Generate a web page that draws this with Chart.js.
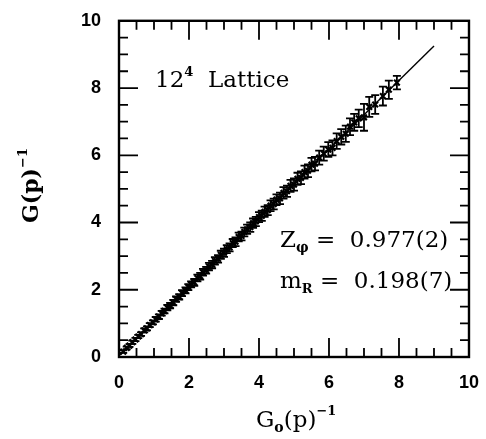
<!DOCTYPE html>
<html>
<head>
<meta charset="utf-8">
<script src="https://cdn.jsdelivr.net/npm/chart.js@4.4.1/dist/chart.umd.min.js"></script>
<style>
  html, body { margin: 0; padding: 0; background: #fff; }
  #wrap { width: 486px; height: 439px; }
</style>
</head>
<body>
<div id="wrap"><canvas id="c" width="486" height="439"></canvas></div>
<script>
// measured points: G0(p)^-1, G(p)^-1 and error
const xVals = [0.12, 0.22, 0.30, 0.38, 0.47, 0.55, 0.63, 0.72, 0.80, 0.88,
               0.97, 1.05, 1.14, 1.22, 1.30, 1.38, 1.46, 1.55, 1.63, 1.72,
               1.80, 1.90, 1.98, 2.06, 2.15, 2.24, 2.32, 2.40, 2.49, 2.57,
               2.66, 2.74, 2.83, 2.91, 3.00, 3.08, 3.16, 3.25, 3.33, 3.42,
               3.50, 3.58, 3.66, 3.75, 3.83, 3.91, 4.00, 4.08, 4.16, 4.25,
               4.33, 4.42, 4.50, 4.60, 4.70, 4.80, 4.90, 5.00, 5.10, 5.20,
               5.30, 5.40, 5.50, 5.60, 5.72, 5.85, 5.98, 6.10, 6.22, 6.35,
               6.48, 6.60, 6.72, 6.85, 7.00, 7.15, 7.32, 7.54, 7.71, 7.94];
const yVals = [0.16, 0.27, 0.34, 0.44, 0.52, 0.61, 0.68, 0.79, 0.85, 0.95,
               1.03, 1.12, 1.20, 1.30, 1.37, 1.47, 1.53, 1.62, 1.72, 1.79,
               1.90, 1.98, 2.08, 2.16, 2.22, 2.35, 2.40, 2.52, 2.58, 2.69,
               2.75, 2.86, 2.92, 3.04, 3.10, 3.21, 3.26, 3.39, 3.43, 3.57,
               3.60, 3.72, 3.80, 3.86, 3.98, 4.03, 4.16, 4.20, 4.32, 4.37,
               4.50, 4.55, 4.68, 4.72, 4.88, 4.93, 5.09, 5.13, 5.30, 5.33,
               5.50, 5.54, 5.72, 5.75, 5.93, 6.05, 6.17, 6.22, 6.42, 6.55,
               6.64, 6.85, 6.98, 7.10, 7.13, 7.44, 7.51, 7.76, 7.95, 8.16];
const yErrs = [0.04, 0.04, 0.04, 0.05, 0.05, 0.05, 0.05, 0.06, 0.06, 0.06,
               0.06, 0.07, 0.07, 0.07, 0.07, 0.08, 0.08, 0.08, 0.08, 0.08,
               0.09, 0.09, 0.09, 0.09, 0.10, 0.10, 0.10, 0.10, 0.10, 0.11,
               0.11, 0.11, 0.11, 0.12, 0.12, 0.12, 0.12, 0.12, 0.13, 0.13,
               0.13, 0.13, 0.14, 0.14, 0.14, 0.14, 0.15, 0.15, 0.15, 0.15,
               0.16, 0.16, 0.16, 0.17, 0.17, 0.17, 0.18, 0.18, 0.18, 0.19,
               0.19, 0.19, 0.20, 0.20, 0.21, 0.21, 0.22, 0.22, 0.23, 0.23,
               0.24, 0.25, 0.25, 0.26, 0.40, 0.30, 0.28, 0.28, 0.27, 0.20];

// fitted line
const fitX = [0, 9];
const fitY = [0.04, 9.25];

const axisTicks = [0, 2, 4, 6, 8, 10];

const ink = '#000';
const serif = '"DejaVu Serif", "Liberation Serif", serif';

const errorBars = {
    id: 'errorBars',
    afterDatasetsDraw(chart) {
        const { ctx, scales: { x, y } } = chart;
        ctx.save();
        ctx.strokeStyle = ink;
        ctx.lineWidth = 1.8;
        xVals.forEach((xv, i) => {
            const px = x.getPixelForValue(xv);
            const top = y.getPixelForValue(yVals[i] + yErrs[i]);
            const bot = y.getPixelForValue(yVals[i] - yErrs[i]);
            ctx.beginPath();
            ctx.moveTo(px, top); ctx.lineTo(px, bot);
            ctx.moveTo(px - 4, top); ctx.lineTo(px + 4, top);
            ctx.moveTo(px - 4, bot); ctx.lineTo(px + 4, bot);
            ctx.stroke();
        });
        ctx.restore();
    }
};

// frame ticks on all four sides, pointing inward
const frameTicks = {
    id: 'frameTicks',
    afterDraw(chart) {
        const { ctx, chartArea: a, scales: { x, y } } = chart;
        ctx.save();
        ctx.strokeStyle = ink;
        ctx.lineWidth = 2.4;
        ctx.strokeRect(a.left, a.top, a.right - a.left, a.bottom - a.top);
        ctx.lineWidth = 1.8;
        for (let k = 1; k < 20; k++) {
            const v = k * 0.5;
            const len = k % 4 === 0 ? 19 : 9;
            const px = x.getPixelForValue(v);
            const py = y.getPixelForValue(v);
            ctx.beginPath();
            ctx.moveTo(px, a.bottom); ctx.lineTo(px, a.bottom - len);
            ctx.moveTo(px, a.top); ctx.lineTo(px, a.top + len);
            ctx.moveTo(a.left, py); ctx.lineTo(a.left + len, py);
            ctx.moveTo(a.right, py); ctx.lineTo(a.right - len, py);
            ctx.stroke();
        }
        ctx.restore();
    }
};

// labels drawn with sub/superscripts
const labels = {
    id: 'labels',
    afterDraw(chart) {
        const { ctx } = chart;
        ctx.save();
        ctx.fillStyle = ink;
        ctx.textBaseline = 'alphabetic';
        ctx.textAlign = 'left';

        const run = (parts, x0, y0) => {
            let cx = x0;
            parts.forEach(([t, size, dy, bold]) => {
                ctx.font = `${bold ? 'bold ' : ''}${size}px ${serif}`;
                ctx.fillText(t, cx, y0 + dy);
                cx += ctx.measureText(t).width;
            });
            return cx;
        };

        run([['12', 23, 0], ['4', 13, -11, true], ['  Lattice', 23, 0]], 155, 87);
        run([['Z', 23, 0], ['\u03c6', 14, 5, true], [' =  0.977(2)', 23, 0]], 280, 247);
        run([['m', 23, 0], ['R', 13, 5, true], [' =  0.198(7)', 23, 0]], 280, 288);

        // x axis title
        run([['G', 23, 0], ['o', 14, 5, true], ['(p)', 23, 0], ['\u22121', 13, -12, true]], 256, 427);

        // y axis title, rotated
        ctx.translate(38, 223);
        ctx.rotate(-Math.PI / 2);
        run([['G(p)', 22, 0, true], ['\u22121', 13, -11, true]], 0, 0);
        ctx.restore();
    }
};

new Chart(document.getElementById('c'), {
    type: 'scatter',
    data: {
        datasets: [
            {
                label: 'data',
                data: xVals.map((v, i) => ({ x: v, y: yVals[i] })),
                pointStyle: 'crossRot',
                pointRadius: 4,
                borderColor: ink,
                borderWidth: 2.2,
            },
            {
                type: 'line',
                label: 'fit',
                data: fitX.map((v, i) => ({ x: v, y: fitY[i] })),
                borderColor: ink,
                borderWidth: 1.4,
                pointRadius: 0,
                fill: false,
            },
        ],
    },
    options: {
        responsive: false, animation: false,
        layout: { padding: { left: 0, right: 13, top: 15, bottom: 0 } },
        plugins: { legend: { display: false }, tooltip: { enabled: false } },
        scales: {
            x: {
                type: 'linear', min: 0, max: 10,
                afterBuildTicks: s => { s.ticks = axisTicks.map(v => ({ value: v })); },
                afterFit: s => { s.height = 82; },
                grid: { display: false },
                border: { display: false },
                ticks: { color: ink, padding: 7, font: { family: '"Liberation Sans", Arial, sans-serif', size: 18, weight: 'bold' } },
            },
            y: {
                type: 'linear', min: 0, max: 10,
                afterBuildTicks: s => { s.ticks = axisTicks.map(v => ({ value: v })); },
                afterFit: s => { s.width = 119; },
                grid: { display: false },
                border: { display: false },
                ticks: { color: ink, padding: 10, font: { family: '"Liberation Sans", Arial, sans-serif', size: 18, weight: 'bold' } },
            },
        },
    },
    plugins: [errorBars, frameTicks, labels],
});
</script>
</body>
</html>
